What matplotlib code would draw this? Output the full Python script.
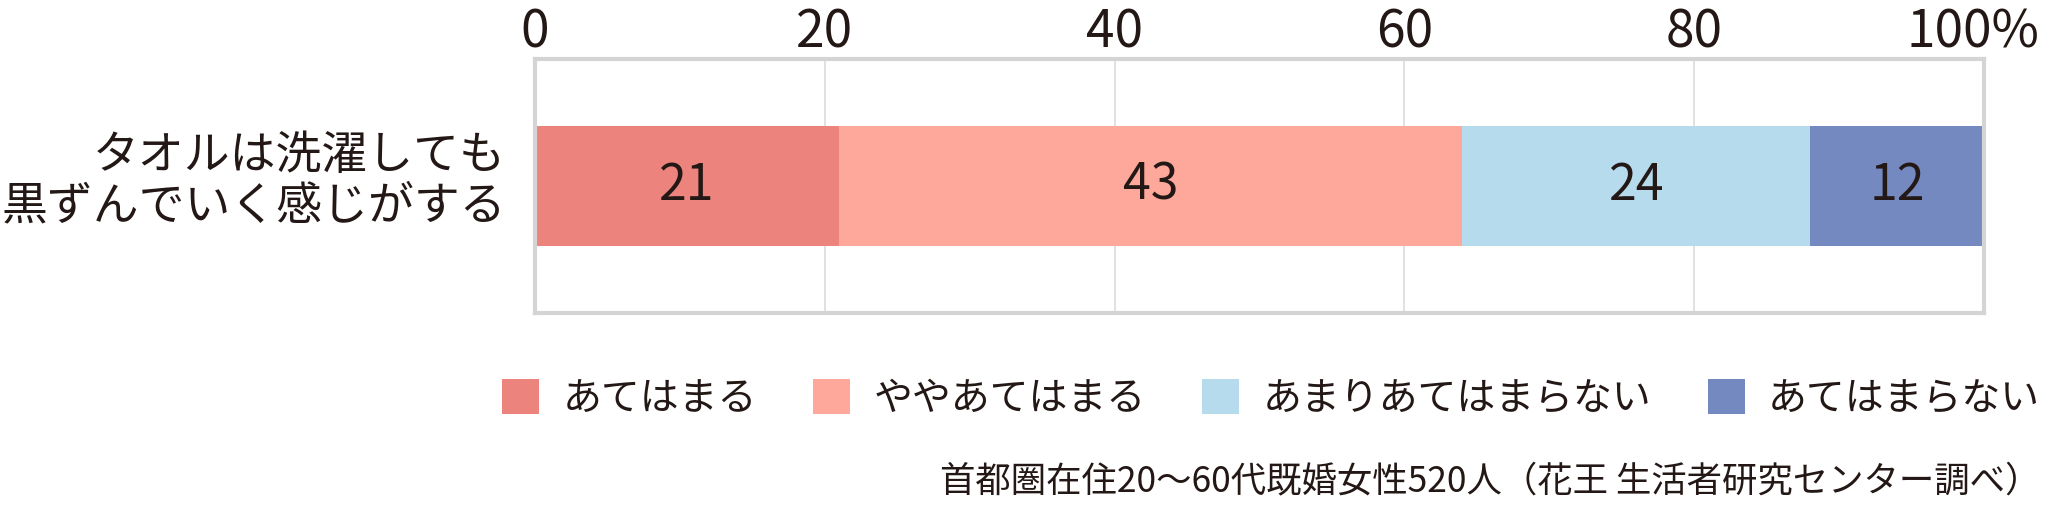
import matplotlib
matplotlib.use("Agg")
import matplotlib.pyplot as plt
import matplotlib.transforms as mtransforms
from matplotlib.patches import Patch

plt.rcParams["font.family"] = ["Noto Sans CJK JP", "DejaVu Sans"]

# data
category = "タオルは洗濯しても\n黒ずんでいく感じがする"
series = ["あてはまる", "ややあてはまる", "あまりあてはまらない", "あてはまらない"]
values = [21, 43, 24, 12]
colors = ["#ec837d", "#fea79b", "#b5dbed", "#7389c0"]
ticks = [0, 20, 40, 60, 80, 100]
tick_labels = ["0", "20", "40", "60", "80", "100%"]
note = "首都圏在住20～60代既婚女性520人（花王 生活者研究センター調べ）"

INK = "#231815"

fig = plt.figure(figsize=(20.48, 5.08), dpi=100)
ax = fig.add_axes([535 / 2048, 1 - 313 / 508, (1984 - 535) / 2048, (313 - 59) / 508])

left = 0
for v, c in zip(values, colors):
    ax.barh(0, v, left=left, height=0.47, color=c, edgecolor="none", zorder=2)
    ax.text(left + v / 2, 0, f"{v}", ha="center", va="center", fontsize=36,
            color=INK, zorder=3)
    left += v

ax.set_xlim(0, 100)
ax.set_ylim(-0.5, 0.5)
ax.set_yticks([])
ax.set_xticks(ticks)
ax.set_xticklabels(tick_labels, fontsize=37, color=INK)
ax.xaxis.tick_top()
ax.tick_params(axis="x", length=0, pad=0)
# "100%" ends near the right edge of the figure
lab = ax.get_xticklabels()[-1]
lab.set_horizontalalignment("right")
lab.set_transform(lab.get_transform() + mtransforms.ScaledTranslation(0.55, 0, fig.dpi_scale_trans))

for t in ticks[1:-1]:
    ax.axvline(t, color="#dcdcdc", linewidth=1.2, zorder=1)
for s in ax.spines.values():
    s.set_color("#d4d4d4")
    s.set_linewidth(3)

ax.text(-0.02, 0.02, category, transform=ax.get_yaxis_transform(),
        ha="right", va="center", multialignment="right", fontsize=33, color=INK, linespacing=1.05)

handles = [Patch(facecolor=c, edgecolor="none", label=s) for s, c in zip(series, colors)]
leg = fig.legend(handles=handles, loc="center right", bbox_to_anchor=(2040 / 2048, 1 - 399 / 508),
                 ncol=4, frameon=False, fontsize=28, handlelength=0.95, handleheight=1.0,
                 handletextpad=0.6, columnspacing=1.45, borderpad=0, borderaxespad=0)
for t in leg.get_texts():
    t.set_color(INK)

fig.text(2040 / 2048, 1 - 481 / 508, note, ha="right", va="center", fontsize=25.5, color=INK)

fig.savefig("out.png", dpi=100)
